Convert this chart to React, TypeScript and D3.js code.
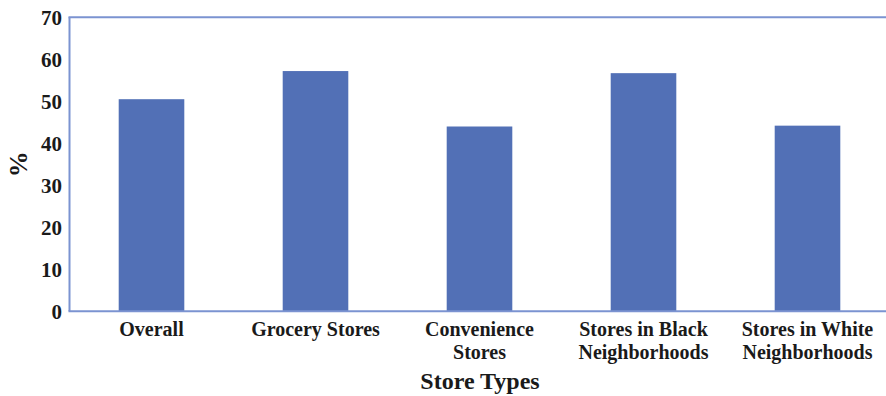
import React from "react";
import * as d3 from "d3";

const categories: string[][] = [
  ["Overall"],
  ["Grocery Stores"],
  ["Convenience", "Stores"],
  ["Stores in Black", "Neighborhoods"],
  ["Stores in White", "Neighborhoods"],
];
const values: number[] = [50.5, 57.2, 44.0, 56.7, 44.2];
const yTicks: number[] = [0, 10, 20, 30, 40, 50, 60, 70];
const yLabel = "%";
const xLabel = "Store Types";

const W = 886;
const H = 396;
const left = 69.5;
const top = 17.3;
const bottom = 311.3;
const FONT = "Liberation Serif, DejaVu Serif, serif";

export default function App() {
  const ids = categories.map((_, i) => String(i));
  const x = d3.scaleBand<string>().domain(ids).range([left, left + 5 * 164]).paddingInner(0.6).paddingOuter(0.3);
  const y = d3.scaleLinear().domain([0, 70]).range([bottom, top]);
  const frame = "#7b93d1";
  const ink = "#1a1a1a";
  return (
    <svg width={W} height={H} style={{ position: "absolute", left: 0, top: 0, background: "#fff", fontFamily: FONT }}>
      {values.map((v, i) => (
        <rect key={i} x={x(ids[i])} y={y(v)} width={x.bandwidth()} height={y(0) - y(v)} fill="#5270b6" />
      ))}
      <line x1={left} x2={left} y1={y(70)} y2={y(0)} stroke={frame} strokeWidth={2} />
      <line x1={left - 1} x2={W} y1={y(70)} y2={y(70)} stroke={frame} strokeWidth={2} />
      <line x1={left - 1} x2={W} y1={y(0)} y2={y(0)} stroke={frame} strokeWidth={2} />
      {yTicks.map((t) => (
        <text key={t} x={62} y={y(t)} dy="0.35em" textAnchor="end" fontSize={21} fontWeight="bold" fill={ink}>
          {t}
        </text>
      ))}
      {categories.map((lines, i) => (
        <text key={i} textAnchor="middle" fontSize={20} fontWeight="bold" fill={ink}>
          {lines.map((ln, j) => (
            <tspan key={j} x={(x(ids[i]) as number) + x.bandwidth() / 2} y={336 + j * 23}>
              {ln}
            </tspan>
          ))}
        </text>
      ))}
      <text x={480} y={389} textAnchor="middle" fontSize={24} fontWeight="bold" fill={ink}>
        {xLabel}
      </text>
      <text transform={`translate(27,${(top + bottom) / 2}) rotate(-90)`} textAnchor="middle" fontSize={26} fontWeight="bold" fill={ink}>
        {yLabel}
      </text>
    </svg>
  );
}
